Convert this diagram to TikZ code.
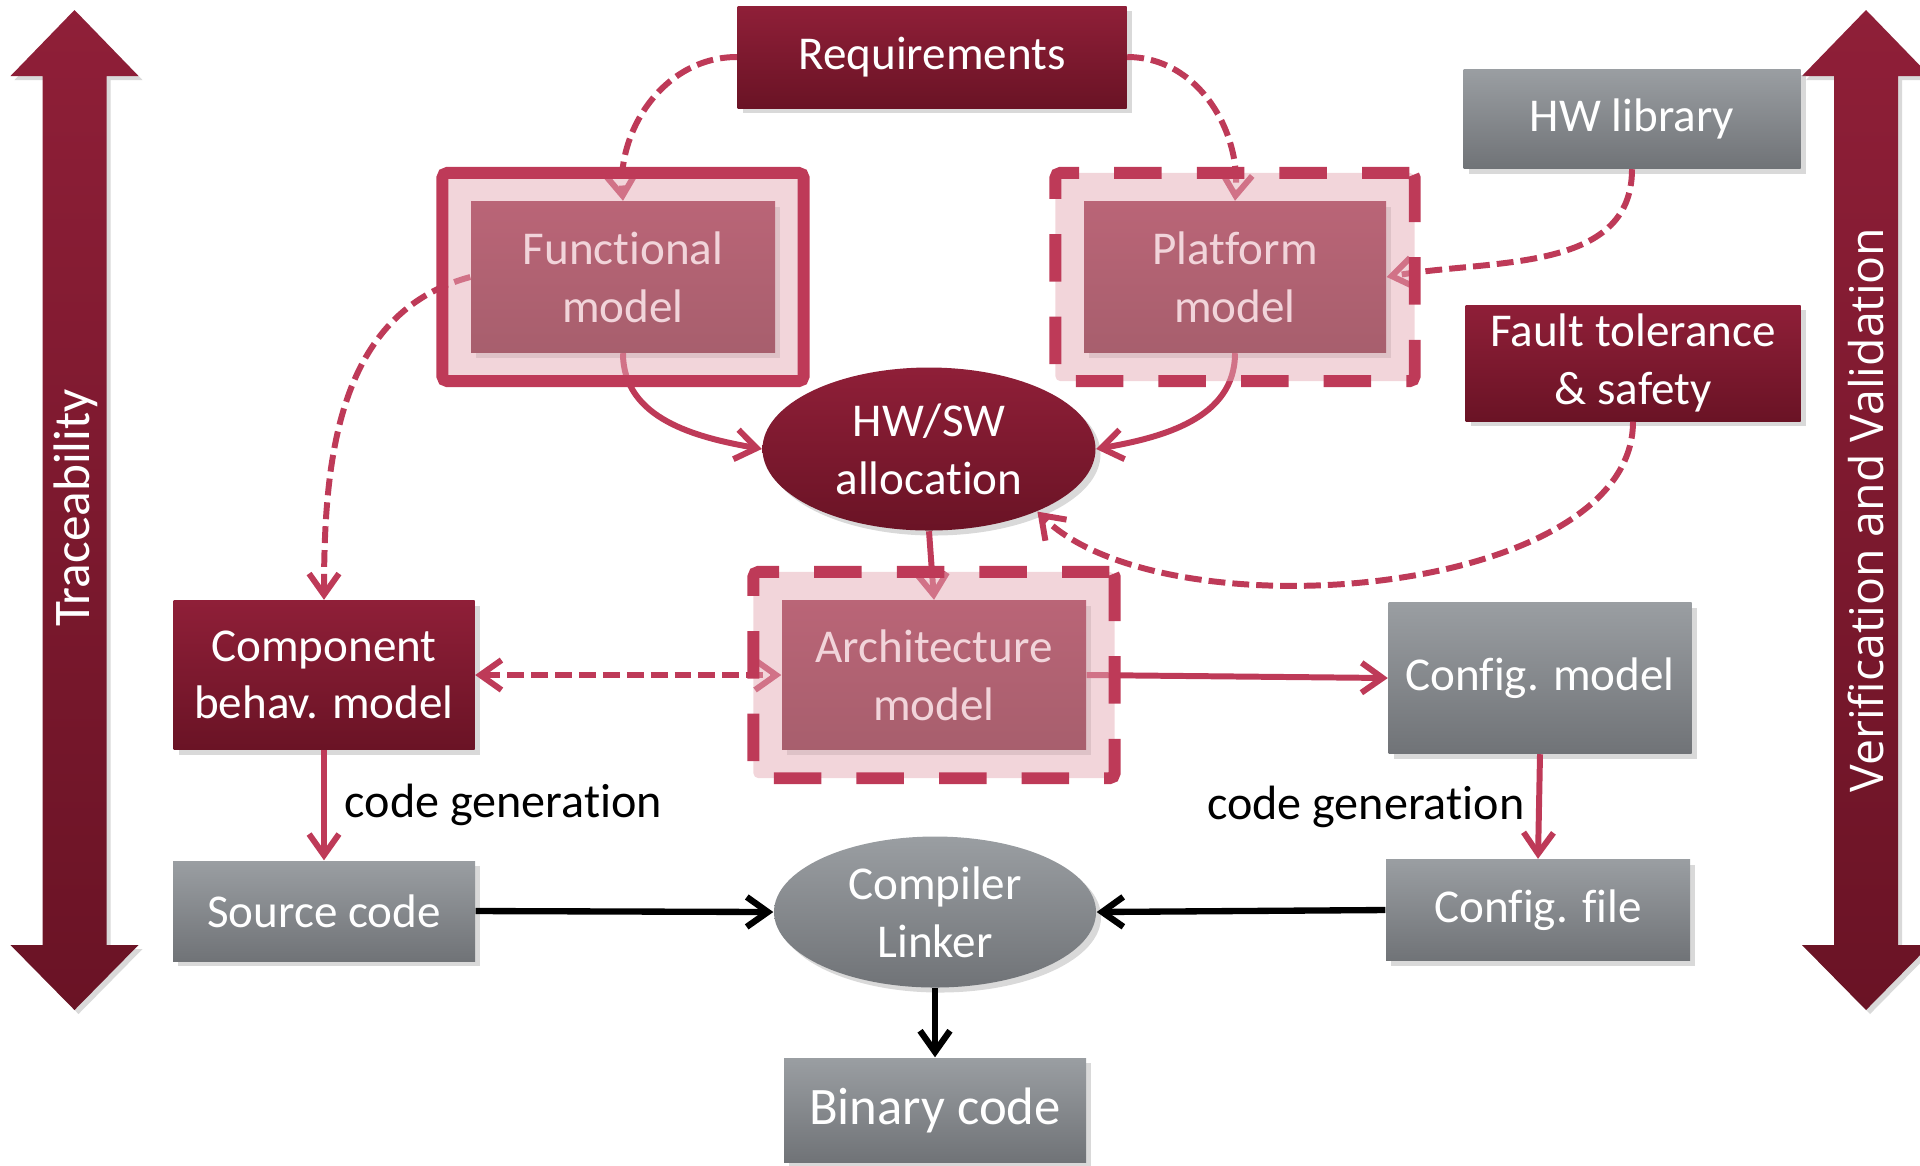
\documentclass[tikz,border=0pt]{standalone}
\usepackage{fontspec}
\setmainfont{Carlito}[Ligatures=NoCommon]
\newfontfamily\vvfont{Open Sans}
\usetikzlibrary{arrows.meta}
\usetikzlibrary{shapes.geometric}
\usetikzlibrary{shadows}
\usetikzlibrary{fit}

\definecolor{boxtop}{RGB}{143,31,56}
\definecolor{boxbot}{RGB}{106,19,37}
\definecolor{graytop}{RGB}{154,158,162}
\definecolor{graybot}{RGB}{112,115,119}
\definecolor{linkred}{RGB}{190,58,88}
\definecolor{framepink}{RGB}{229,171,182}

\tikzset{
	darkbox/.style={rectangle, top color=boxtop, bottom color=boxbot, text=white, align=center, inner sep=0pt,
		font=\fontsize{13.4}{16.4}\selectfont,
		drop shadow={shadow xshift=0.05cm, shadow yshift=-0.05cm, opacity=0.3}},
	graybox/.style={darkbox, top color=graytop, bottom color=graybot},
	modelframe/.style={rectangle, fill=framepink, fill opacity=0.5, draw=linkred, draw opacity=1,
		line width=3.4pt, inner sep=0.28cm, rounded corners=1.5pt},
	dashframe/.style={modelframe, dash pattern=on 13.5pt off 10pt},
	link/.style={draw=linkred, line width=1.7pt, -{Straight Barb[length=6pt,width=8.5pt]}},
	dlink/.style={link, dash pattern=on 4.8pt off 2pt},
	blink/.style={draw=black, line width=1.8pt, -{Straight Barb[length=6pt,width=8.5pt]}},
	gentext/.style={text=black, font=\fontsize{13.7}{16}\selectfont},
	sidearrow/.style={top color=boxtop, bottom color=boxbot,
		drop shadow={shadow xshift=0.04cm, shadow yshift=-0.04cm, opacity=0.3}},
	sidetext/.style={text=white, rotate=90}
}

\begin{document}
\begin{tikzpicture}
		
		\useasboundingbox (0,0) rectangle (19.2,-11.65);
		
		% Side arrows
		\path[sidearrow] (0.745,-0.10) -- (1.385,-0.76) -- (1.065,-0.76) -- (1.065,-9.45) -- (1.385,-9.45)
			-- (0.745,-10.10) -- (0.105,-9.45) -- (0.425,-9.45) -- (0.425,-0.76) -- (0.105,-0.76) -- cycle; % left
		\path[sidearrow] (18.66,-0.10) -- (19.30,-0.76) -- (18.98,-0.76) -- (18.98,-9.45) -- (19.30,-9.45)
			-- (18.66,-10.10) -- (18.02,-9.45) -- (18.34,-9.45) -- (18.34,-0.76) -- (18.02,-0.76) -- cycle; % right
		\node[sidetext, font=\fontsize{14.6}{17}\selectfont] (trace) at (0.76,-5.08) {Traceability};
		\node[sidetext, font=\vvfont\fontsize{13.2}{16}\selectfont] (verif) at (18.66,-5.10) {Verification and Validation};
		
		% Top row
		\node[darkbox, minimum width=3.89cm, minimum height=1.02cm] (req) at (9.32,-0.57) {Requirements};
		\node[graybox, minimum width=3.37cm, minimum height=0.99cm] (hwlib) at (16.32,-1.19) {HW library};
		\node[darkbox, minimum width=3.04cm, minimum height=1.51cm] (func) at (6.23,-2.77) {Functional\\model};
		\node[darkbox, minimum width=3.02cm, minimum height=1.51cm] (plat) at (12.35,-2.77) {Platform\\model};
		\node[darkbox, minimum width=3.35cm, minimum height=1.16cm] (fault) at (16.33,-3.63) {Fault tolerance\\\& safety};
		
		% Allocation and models
		\node[darkbox, ellipse, minimum width=3.33cm, minimum height=1.63cm] (alloc) at (9.29,-4.49) {HW/SW\\allocation};
		\node[darkbox, minimum width=3.01cm, minimum height=1.49cm] (comp) at (3.24,-6.75) {Component\\behav. model};
		\node[darkbox, minimum width=3.04cm, minimum height=1.49cm] (arch) at (9.34,-6.75) {Architecture\\model};
		\node[graybox, minimum width=3.03cm, minimum height=1.51cm] (cfgmodel) at (15.40,-6.78) {Config. model};
		
		% Code
		\node[graybox, minimum width=3.02cm, minimum height=1.00cm] (src) at (3.24,-9.11) {Source code};
		\node[graybox, ellipse, minimum width=3.22cm, minimum height=1.51cm] (compiler) at (9.35,-9.12) {Compiler\\Linker};
		\node[graybox, minimum width=3.04cm, minimum height=1.01cm] (cfgfile) at (15.38,-9.10) {Config. file};
		\node[graybox, minimum width=3.02cm, minimum height=1.04cm, font=\fontsize{15}{18}\selectfont] (binary) at (9.35,-11.10) {Binary code};
		
		% Connectors
		\draw[dlink] (req.west) to[out=180,in=95] (func.north);
		\draw[dlink] (req.east) to[out=0,in=85] (plat.north);
		\draw[dlink] (hwlib.south) to[out=-90,in=10] (plat.east);
		\draw[dlink] (func.west) to[out=195,in=90] (comp.north);
		\draw[link] (func.south) to[out=-90,in=170] (alloc.west);
		\draw[link] (plat.south) to[out=-90,in=10] (alloc.east);
		\draw[dlink] (fault.south) to[out=-90,in=-45,looseness=0.75] (alloc.-30);
		\draw[link] (alloc.south) -- (arch.north);
		\draw[dlink, {Straight Barb[length=6pt,width=8.5pt]}-{Straight Barb[length=6pt,width=8.5pt]}] (comp.east) -- (arch.west);
		\draw[link] (arch.east) -- (cfgmodel.west);
		\draw[link] (comp.south) -- node[gentext, right, xshift=0.06cm] {code generation} (src.north); % left side
		\draw[link] (cfgmodel.south) -- node[gentext, left] {code generation} (cfgfile.north); % right side
		\draw[blink] (src.east) -- (compiler.west);
		\draw[blink] (cfgfile.west) -- (compiler.east);
		\draw[blink] (compiler.south) -- (binary.north);
		
		% Frames over the models
		\node[modelframe, fit=(func)] (funcfrm) {};
		\node[dashframe, fit=(plat)] (platfrm) {};
		\node[dashframe, fit=(arch)] (archfrm) {};
		
	\end{tikzpicture}
\end{document}
